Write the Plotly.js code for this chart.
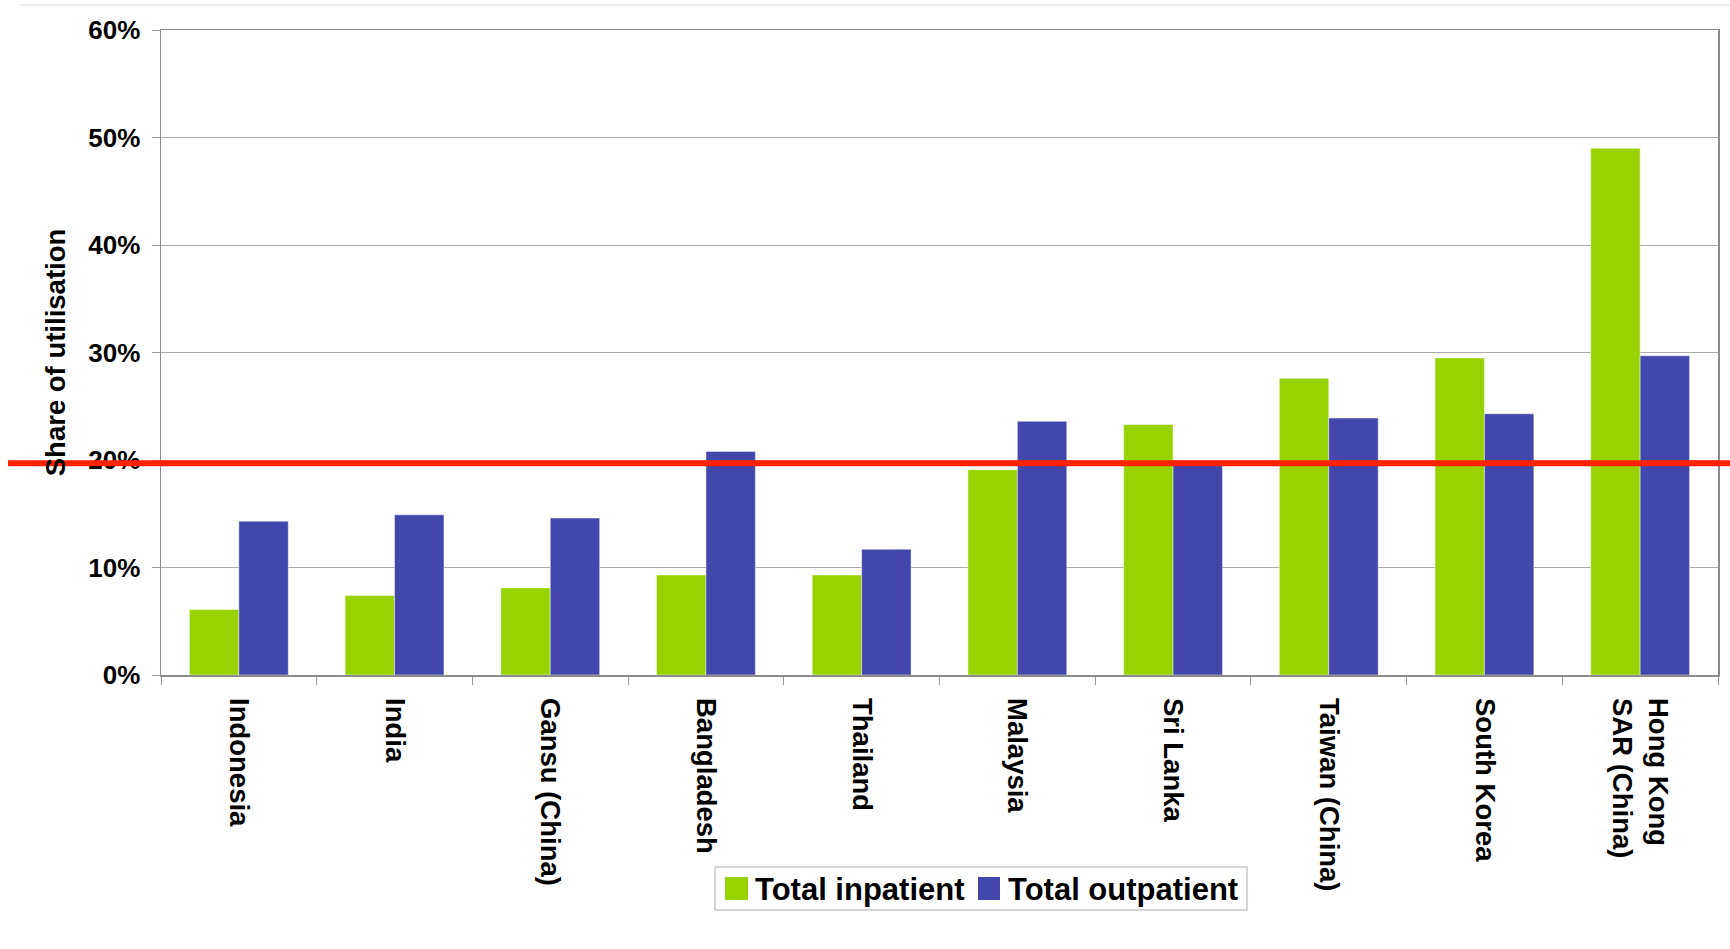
<!DOCTYPE html>
<html>
<head>
<meta charset="utf-8">
<script src="https://cdn.plot.ly/plotly-3.0.1.min.js"></script>
<style>
  html, body { margin: 0; padding: 0; background: #ffffff; }
  #chart { width: 1730px; height: 949px; }
</style>
</head>
<body>
<div id="chart"></div>
<script>
// Share of utilisation by setting (per cent)
const categories = [
  "Indonesia", "India", "Gansu (China)", "Bangladesh", "Thailand",
  "Malaysia", "Sri Lanka", "Taiwan (China)", "South Korea", "Hong Kong<br>SAR (China)"
];
const inpatient  = [6.1, 7.4, 8.1, 9.3, 9.3, 19.1, 23.3, 27.6, 29.5, 49.0];
const outpatient = [14.3, 14.9, 14.6, 20.8, 11.7, 23.6, 19.6, 23.9, 24.3, 29.7];
const seriesNames = ["Total inpatient", "Total outpatient"];
const referenceLevel = 19.7;

const W = 1730, H = 949;
const M = { l: 161, r: 12, t: 30, b: 274 };
const plotW = W - M.l - M.r, plotH = H - M.t - M.b;
// pixel -> paper coordinate helpers for the hand-placed legend and rules
const px = x => (x - M.l) / plotW;
const py = y => (H - M.b - y) / plotH;

const FONT = "Liberation Sans, Arial, Helvetica, sans-serif";
const GREEN = "#98D200", BLUE = "#4346AA";

const traces = [
  {
    type: "bar", name: seriesNames[0], x: categories, y: inpatient,
    marker: { color: GREEN, line: { width: 1, color: "rgba(255,255,255,0.45)" } },
    showlegend: false, hoverinfo: "x+y"
  },
  {
    type: "bar", name: seriesNames[1], x: categories, y: outpatient,
    marker: { color: BLUE, line: { width: 1, color: "rgba(255,255,255,0.45)" } },
    showlegend: false, hoverinfo: "x+y"
  }
];

const legendBox = { x0: 715, x1: 1247, y0: 867, y1: 910 };
const legendItems = [
  { sq: [725, 748], text: 755, color: GREEN, label: seriesNames[0] },
  { sq: [978, 1000], text: 1008, color: BLUE, label: seriesNames[1] }
];
const legendMid = (legendBox.y0 + legendBox.y1) / 2;

const shapes = [
  // faint rule along the top of the page
  { type: "line", xref: "paper", yref: "paper", x0: px(20), x1: px(W), y0: py(5), y1: py(5),
    line: { color: "#dcdcdc", width: 1 } },
  // red reference line across the whole figure
  { type: "line", xref: "paper", yref: "y", x0: px(8), x1: px(W), y0: referenceLevel, y1: referenceLevel,
    line: { color: "#FF2200", width: 6 }, layer: "above" },
  // legend frame
  { type: "rect", xref: "paper", yref: "paper",
    x0: px(legendBox.x0), x1: px(legendBox.x1), y0: py(legendBox.y0), y1: py(legendBox.y1),
    line: { color: "#c8c8c8", width: 1.5 }, fillcolor: "#ffffff" }
];
const annotations = [];
legendItems.forEach(it => {
  shapes.push({ type: "rect", xref: "paper", yref: "paper",
    x0: px(it.sq[0]), x1: px(it.sq[1]), y0: py(legendMid - 11.5), y1: py(legendMid + 11.5),
    line: { width: 0 }, fillcolor: it.color });
  annotations.push({ xref: "paper", yref: "paper", x: px(it.text - 2), y: py(legendMid + 1),
    xanchor: "left", yanchor: "middle", showarrow: false, text: it.label,
    font: { family: FONT, size: 31, weight: "bold", color: "#000000" } });
});

const layout = {
  width: W, height: H,
  margin: M,
  paper_bgcolor: "#ffffff", plot_bgcolor: "#ffffff",
  font: { family: FONT, color: "#000000" },
  barmode: "group", bargap: 0.365, bargroupgap: 0,
  showlegend: false,
  xaxis: {
    type: "category",
    tickson: "boundaries",
    ticks: "outside", ticklen: 8, tickcolor: "#9a9a9a", tickwidth: 1,
    tickangle: 90,
    tickfont: { family: FONT, size: 27.5, weight: "bold", color: "#000000" },
    ticklabelstandoff: 16,
    showline: true, linecolor: "#8c8c8c", linewidth: 1.5, mirror: true,
    showgrid: false, automargin: false
  },
  yaxis: {
    range: [0, 60], dtick: 10, ticksuffix: "%",
    ticks: "outside", ticklen: 8, tickcolor: "#9a9a9a", tickwidth: 1,
    tickfont: { family: FONT, size: 26, weight: "bold", color: "#000000" },
    ticklabelstandoff: 6,
    showline: true, linecolor: "#8c8c8c", linewidth: 1.5, mirror: true,
    showgrid: true, gridcolor: "#ababab", gridwidth: 1,
    zeroline: false, automargin: false,
    title: { text: "Share of utilisation", standoff: 14,
             font: { family: FONT, size: 27.5, weight: "bold", color: "#000000" } }
  },
  shapes: shapes,
  annotations: annotations
};

Plotly.newPlot("chart", traces, layout, { displayModeBar: false, staticPlot: true });
</script>
</body>
</html>
